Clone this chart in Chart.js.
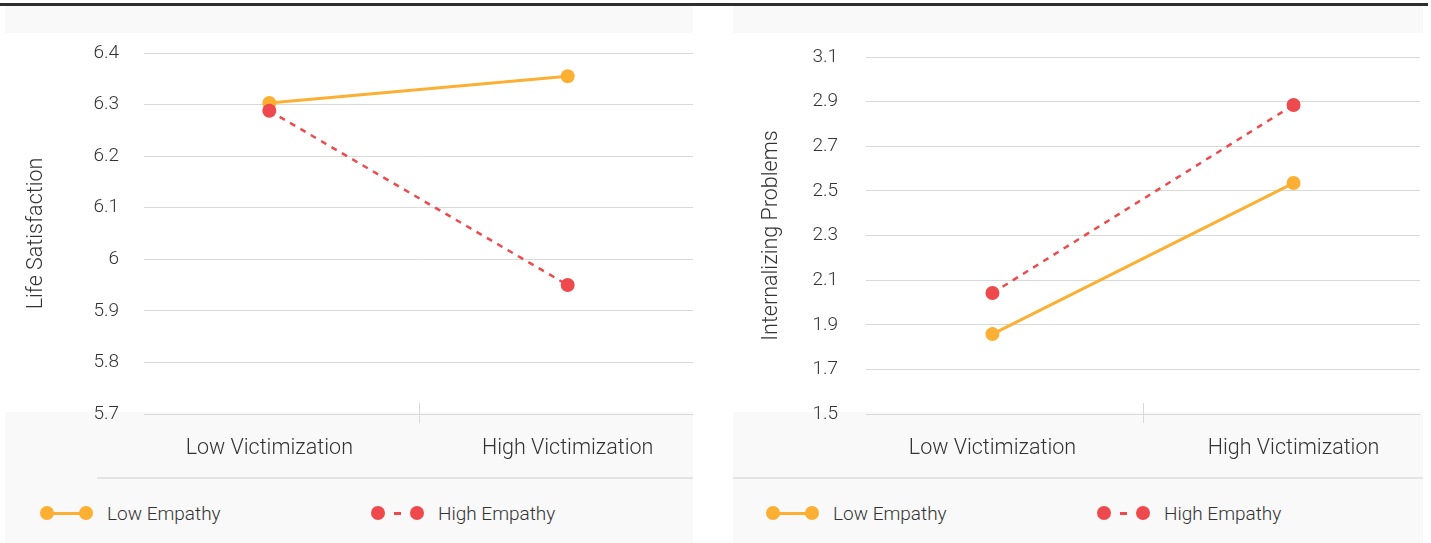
<!DOCTYPE html>
<html>
<head>
<meta charset="utf-8">
<script src="https://cdn.jsdelivr.net/npm/chart.js@4.4.1/dist/chart.umd.min.js"></script>
<style>
body{margin:0;background:#fff;font-family:Roboto,"Liberation Sans",sans-serif;color:#333;}
#topline{position:absolute;left:0;top:3px;width:1428px;height:3px;background:#2e2e2e;}
.panel{position:absolute;top:6px;height:537px;}
.band{position:absolute;left:0;right:0;top:0;height:27px;background:#f9f9f9;}
.foot{position:absolute;left:0;right:0;top:406px;bottom:0;background:#f9f9f9;}
.sep{position:absolute;right:0;top:471px;height:2px;background:#e4e4e4;}
.panel canvas{position:absolute;left:0;top:27px;}
.legend{position:absolute;top:497px;height:20px;display:flex;align-items:center;font-size:19px;font-weight:300;}
.item{display:flex;align-items:center;width:331px;}
.mark{position:relative;width:53px;height:14px;margin-right:14px;}
.dot{position:absolute;top:0;width:14px;height:14px;border-radius:50%;}
.seg{position:absolute;top:5.5px;height:3px;}
</style>
</head>
<body>
<div id="topline"></div>

<div class="panel" id="p1" style="left:5px;width:688px;">
  <div class="band"></div>
  <div class="foot"></div>
  <div class="sep" style="left:92px;"></div>
  <canvas id="chart1" width="688" height="445"></canvas>
  <div class="legend" id="legend1" style="left:35px;"></div>
</div>

<div class="panel" id="p2" style="left:733px;width:690px;">
  <div class="band"></div>
  <div class="foot"></div>
  <div class="sep" style="left:0;"></div>
  <canvas id="chart2" width="690" height="445"></canvas>
  <div class="legend" id="legend2" style="left:33px;"></div>
</div>

<script>
const categories = ["Low Victimization", "High Victimization"];
const seriesNames = ["Low Empathy", "High Empathy"];
const seriesColors = ["#fbb034", "#ee4a4d"];

// life satisfaction
const lifeLowEmpathy = [6.303, 6.355];
const lifeHighEmpathy = [6.288, 5.950];
const lifeTicks = [5.7, 5.8, 5.9, 6, 6.1, 6.2, 6.3, 6.4];

// internalizing problems
const intLowEmpathy = [1.858, 2.535];
const intHighEmpathy = [2.042, 2.885];
const intTicks = [1.5, 1.7, 1.9, 2.1, 2.3, 2.5, 2.7, 2.9, 3.1];

const midTick = {
  id: "midTick",
  afterDraw(chart){
    const x = Math.round(chart.scales.x.getPixelForValue(0.5)) + 0.5;
    const y = chart.chartArea.bottom;
    const c = chart.ctx;
    c.save();
    c.strokeStyle = "#d9d9d9";
    c.lineWidth = 1;
    c.beginPath();
    c.moveTo(x, y - 11);
    c.lineTo(x, y + 9);
    c.stroke();
    c.restore();
  }
};

function makeChart(id, lowVals, highVals, ticks, title, axisWidth, tickPad, titlePad, pad){

  const toPoints = vals => vals.map((v, i) => ({x: i, y: v}));

  return new Chart(document.getElementById(id), {
    type: "line",
    data: {
      datasets: [
        {
          label: seriesNames[0],
          data: toPoints(lowVals),
          borderColor: seriesColors[0],
          backgroundColor: seriesColors[0],
          borderWidth: 3,
          pointRadius: 7,
          pointHoverRadius: 7,
          pointBorderWidth: 0,
          order: 2
        },
        {
          label: seriesNames[1],
          data: toPoints(highVals),
          borderColor: seriesColors[1],
          backgroundColor: seriesColors[1],
          borderWidth: 2.5,
          borderDash: [6, 6],
          pointRadius: 7,
          pointHoverRadius: 7,
          pointBorderWidth: 0,
          order: 1
        }
      ]
    },
    options: {
      responsive: false,
      animation: false,
      layout: { padding: pad, autoPadding: false },
      plugins: { legend: { display: false }, tooltip: { enabled: false } },
      scales: {
        x: {
          type: "linear",
          min: -0.42,
          max: 1.42,
          afterBuildTicks: s => { s.ticks = categories.map((c, i) => ({value: i})); },
          afterFit: s => { s.height = 64; },
          grid: { display: false },
          border: { display: false },
          ticks: {
            padding: 14,
            maxRotation: 0,
            autoSkip: false,
            color: "#333",
            font: { family: "Roboto", size: 21.5, weight: 300 },
            callback: v => categories[v]
          }
        },
        y: {
          min: ticks[0],
          max: ticks[ticks.length - 1],
          afterBuildTicks: s => { s.ticks = ticks.map(v => ({value: v})); },
          afterFit: s => {
            s.width = axisWidth;
            s.paddingTop = 0;
            s.paddingBottom = 0;
          },
          grid: { color: "#d9d9d9", drawTicks: false },
          border: { display: false },
          ticks: {
            padding: tickPad,
            color: "#333",
            font: { family: "Roboto", size: 19, weight: 300 },
            callback: v => String(v)
          },
          title: {
            display: true,
            text: title,
            color: "#333",
            font: { family: "Roboto", size: 21.5, weight: 300 },
            padding: { top: titlePad }
          }
        }
      }
    },
    plugins: [midTick]
  });

}

function makeLegend(id){

  const legend = document.getElementById(id);

  seriesNames.forEach((name, i) => {
    const item = document.createElement("div");
    item.className = "item";
    const segStyle = i === 0
      ? `left:7px;right:7px;background:${seriesColors[i]}`
      : `left:23px;width:7px;background:${seriesColors[i]}`;
    item.innerHTML = `
      <div class="mark">
        <div class="dot" style="left:0;background:${seriesColors[i]}"></div>
        <div class="seg" style="${segStyle}"></div>
        <div class="dot" style="right:0;background:${seriesColors[i]}"></div>
      </div>
      <span>${name}</span>
    `;
    legend.appendChild(item);
  });

}

makeChart("chart1", lifeLowEmpathy, lifeHighEmpathy, lifeTicks,
  "Life Satisfaction", 139, 25, 19, {top: 20, right: 0});

makeChart("chart2", intLowEmpathy, intHighEmpathy, intTicks,
  "Internalizing Problems", 133, 28, 26, {top: 24, right: 3});

makeLegend("legend1");
makeLegend("legend2");
</script>
</body>
</html>
